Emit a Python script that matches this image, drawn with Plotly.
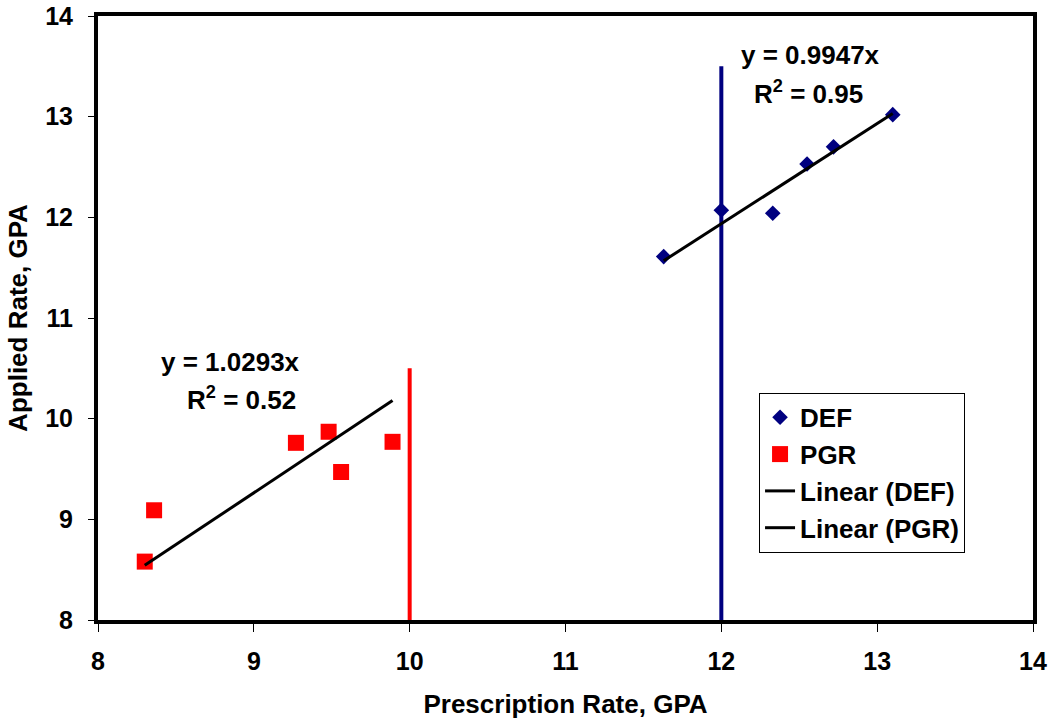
import plotly.graph_objects as go

# Data
def_x = [11.63, 12.00, 12.33, 12.55, 12.72, 13.10]
def_y = [11.61, 12.07, 12.04, 12.53, 12.70, 13.02]
pgr_x = [8.30, 8.36, 9.27, 9.48, 9.56, 9.89]
pgr_y = [8.58, 9.09, 9.76, 9.87, 9.47, 9.77]
def_slope = 0.9947
pgr_slope = 1.0293
def_target_x = [12, 12]
def_target_y = [8, 13.5]
pgr_target_x = [10, 10]
pgr_target_y = [8, 10.5]
x_ticks = [8, 9, 10, 11, 12, 13, 14]
y_ticks = [8, 9, 10, 11, 12, 13, 14]

font = "Liberation Sans, Arial, sans-serif"
FS = 26

def_fit_x = [min(def_x), max(def_x)]
def_fit_y = [def_slope * v for v in def_fit_x]
pgr_fit_x = [min(pgr_x), max(pgr_x)]
pgr_fit_y = [pgr_slope * v for v in pgr_fit_x]

fig = go.Figure()
fig.add_trace(go.Scatter(x=def_target_x, y=def_target_y, mode="lines",
                         line=dict(color="#000080", width=4), showlegend=False, hoverinfo="skip"))
fig.add_trace(go.Scatter(x=pgr_target_x, y=pgr_target_y, mode="lines",
                         line=dict(color="#FF0000", width=4), showlegend=False, hoverinfo="skip"))
fig.add_trace(go.Scatter(x=def_x, y=def_y, mode="markers", name="DEF",
                         marker=dict(symbol="diamond", size=12, color="#000080")))
fig.add_trace(go.Scatter(x=pgr_x, y=pgr_y, mode="markers", name="PGR",
                         marker=dict(symbol="square", size=16, color="#FF0000")))
fig.add_trace(go.Scatter(x=def_fit_x, y=def_fit_y, mode="lines", name="Linear (DEF)",
                         line=dict(color="black", width=3)))
fig.add_trace(go.Scatter(x=pgr_fit_x, y=pgr_fit_y, mode="lines", name="Linear (PGR)",
                         line=dict(color="black", width=3)))

ann_font = dict(family=font, size=FS, color="black", weight="bold")
for ax, ay, txt in [(0.7615, 0.936, "y = 0.9947x"),
                    (0.7604, 0.874, "R<sup>2</sup> = 0.95"),
                    (0.1422, 0.4272, "y = 1.0293x"),
                    (0.153, 0.3675, "R<sup>2</sup> = 0.52")]:
    fig.add_annotation(x=ax, y=ay, xref="paper", yref="paper", xanchor="center",
                       yanchor="middle", text=txt, showarrow=False, font=ann_font)

tick_font = dict(family=font, size=25, color="black", weight="bold")
title_font = dict(family=font, size=FS, color="black", weight="bold")

fig.update_layout(
    width=1050, height=725,
    margin=dict(l=98, r=17, t=16, b=105, autoexpand=False),
    paper_bgcolor="white", plot_bgcolor="white",
    font=dict(family=font, size=FS, color="black", weight="bold"),
    legend=dict(x=0.707, y=0.376, xanchor="left", yanchor="top",
                bordercolor="black", borderwidth=1, bgcolor="white",
                font=dict(family=font, size=FS, color="black", weight="bold"),
                itemwidth=30, tracegroupgap=0),
    xaxis=dict(range=[8, 14], tickvals=x_ticks, automargin=False,
               showgrid=False, zeroline=False, showline=True, linecolor="black", linewidth=4,
               mirror=True, ticks="outside", ticklen=8, tickwidth=1, tickcolor="black",
               tickfont=tick_font, ticklabelstandoff=8,
               title=dict(text="Prescription Rate, GPA", standoff=22, font=title_font)),
    yaxis=dict(range=[8, 14], tickvals=y_ticks, automargin=False,
               showgrid=False, zeroline=False, showline=True, linecolor="black", linewidth=4,
               mirror=True, ticks="outside", ticklen=6, tickwidth=1, tickcolor="black",
               tickfont=tick_font, ticklabelstandoff=10,
               title=dict(text="Applied Rate, GPA", standoff=11, font=title_font)),
)

fig.write_html("out.html")
